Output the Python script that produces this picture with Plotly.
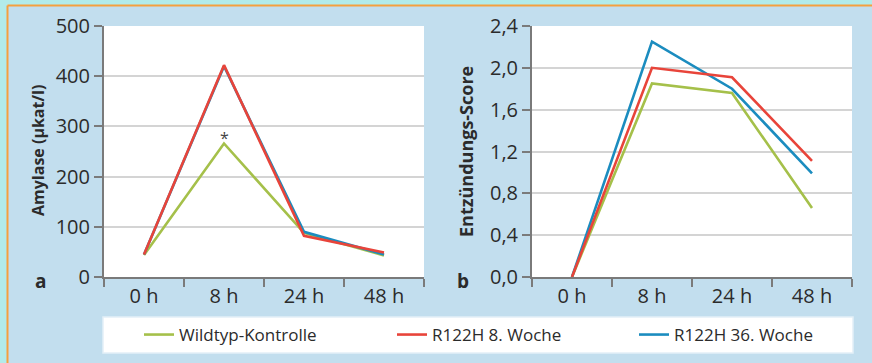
import plotly.graph_objects as go

# ---- data ----
times = ["0 h", "8 h", "24 h", "48 h"]
amylase_wt = [44, 266, 88, 43]
amylase_r8 = [45, 422, 82, 49]
amylase_r36 = [45, 420, 90, 45]
score_wt = [0.0, 1.85, 1.76, 0.66]
score_r8 = [0.0, 2.00, 1.91, 1.11]
score_r36 = [0.0, 2.25, 1.80, 0.99]
series_names = ["Wildtyp-Kontrolle", "R122H 8. Woche", "R122H 36. Woche"]
colors = ["#a5c04a", "#e8443a", "#1b8cbf"]

W, H = 872, 363
def px(x): return x / W
def py(y): return 1 - y / H

FONT = "Open Sans"
TXT = "#2b2b2b"
fig = go.Figure()

legend_ids = ["legend", "legend2", "legend3"]
# draw order: green, blue, red
panels = [
    ("x", "y", [amylase_wt, amylase_r8, amylase_r36]),
    ("x2", "y2", [score_wt, score_r8, score_r36]),
]
for pi, (xa, ya, vals) in enumerate(panels):
    for idx in [0, 2, 1]:
        fig.add_trace(go.Scatter(
            x=times, y=vals[idx], mode="lines", xaxis=xa, yaxis=ya,
            name=series_names[idx], legend=legend_ids[idx],
            showlegend=(pi == 0),
            line=dict(color=colors[idx], width=2.6),
        ))

axis_common = dict(
    showline=True, linecolor="#7a7a7a", linewidth=2,
    ticks="outside", tickcolor="#7a7a7a", tickwidth=1.5, ticklen=8,
    tickfont=dict(family=FONT, size=20, color=TXT),
    zeroline=False, automargin=False,
)
xcommon = dict(axis_common, type="category", range=[-0.5, 3.5],
               tickson="boundaries", showgrid=False)
ycommon = dict(axis_common, showgrid=True, gridcolor="#d4d4d4", gridwidth=1.5)

legend_x = [139, 392, 634]
legend_style = dict(
    orientation="h", xref="paper", yref="paper", y=py(335),
    xanchor="left", yanchor="middle",
    bgcolor="rgba(0,0,0,0)", borderwidth=0,
    font=dict(family=FONT, size=17, color=TXT),
)

fig.update_layout(
    width=W, height=H,
    margin=dict(l=0, r=0, t=0, b=0, autoexpand=False),
    paper_bgcolor="#c2deee", plot_bgcolor="#ffffff",
    separators=",.",
    font=dict(family=FONT, color=TXT),
    xaxis=dict(xcommon, domain=[px(104), px(424)], anchor="y"),
    yaxis=dict(ycommon, domain=[py(277), py(26)], anchor="x",
               range=[0, 500], dtick=100, tick0=0),
    xaxis2=dict(xcommon, domain=[px(532), px(852)], anchor="y2"),
    yaxis2=dict(ycommon, domain=[py(277), py(26)], anchor="x2",
                range=[0, 2.4], dtick=0.4, tick0=0, tickformat=".1f"),
    showlegend=True,
    legend=dict(legend_style, x=px(legend_x[0])),
    legend2=dict(legend_style, x=px(legend_x[1])),
    legend3=dict(legend_style, x=px(legend_x[2])),
)

shapes = [
    # outer cyan frame
    dict(type="rect", xref="paper", yref="paper", x0=0, x1=px(7), y0=0, y1=1,
         fillcolor="#b2ebea", line=dict(width=0), layer="below"),
    dict(type="rect", xref="paper", yref="paper", x0=0, x1=1, y0=py(5), y1=1,
         fillcolor="#b2ebea", line=dict(width=0), layer="below"),
    # orange rules
    dict(type="line", xref="paper", yref="paper", x0=px(7.5), x1=px(7.5), y0=0, y1=py(5.5),
         line=dict(color="#f5a03e", width=2), layer="below"),
    dict(type="line", xref="paper", yref="paper", x0=px(7.5), x1=1, y0=py(5.5), y1=py(5.5),
         line=dict(color="#f5a03e", width=2), layer="below"),
    # legend box
    dict(type="rect", xref="paper", yref="paper", x0=px(103), x1=px(853), y0=py(353), y1=py(317),
         fillcolor="#ffffff", line=dict(color="#e4f0f7", width=1.5), layer="below"),
]
fig.update_layout(shapes=shapes)

annotations = [
    dict(text="<b>Amylase (µkat/l)</b>", x=px(38), y=py(151), xref="paper", yref="paper",
         textangle=-90, showarrow=False, font=dict(family=FONT, size=16, color=TXT),
         xanchor="center", yanchor="middle"),
    dict(text="<b>Entzündungs-Score</b>", x=px(466), y=py(151), xref="paper", yref="paper",
         textangle=-90, showarrow=False, font=dict(family=FONT, size=18, color=TXT),
         xanchor="center", yanchor="middle"),
    dict(text="<b>a</b>", x=px(33), y=py(296), xref="paper", yref="paper",
         showarrow=False, font=dict(family=FONT, size=19, color=TXT)),
    dict(text="<b>b</b>", x=px(463), y=py(296), xref="paper", yref="paper",
         showarrow=False, font=dict(family=FONT, size=19, color=TXT)),
    dict(text="*", x="8 h", y=amylase_wt[1], xref="x", yref="y", yshift=5,
         showarrow=False, font=dict(family=FONT, size=16, color="#444444")),
]
fig.update_layout(annotations=annotations)

fig.write_html("out.html")
